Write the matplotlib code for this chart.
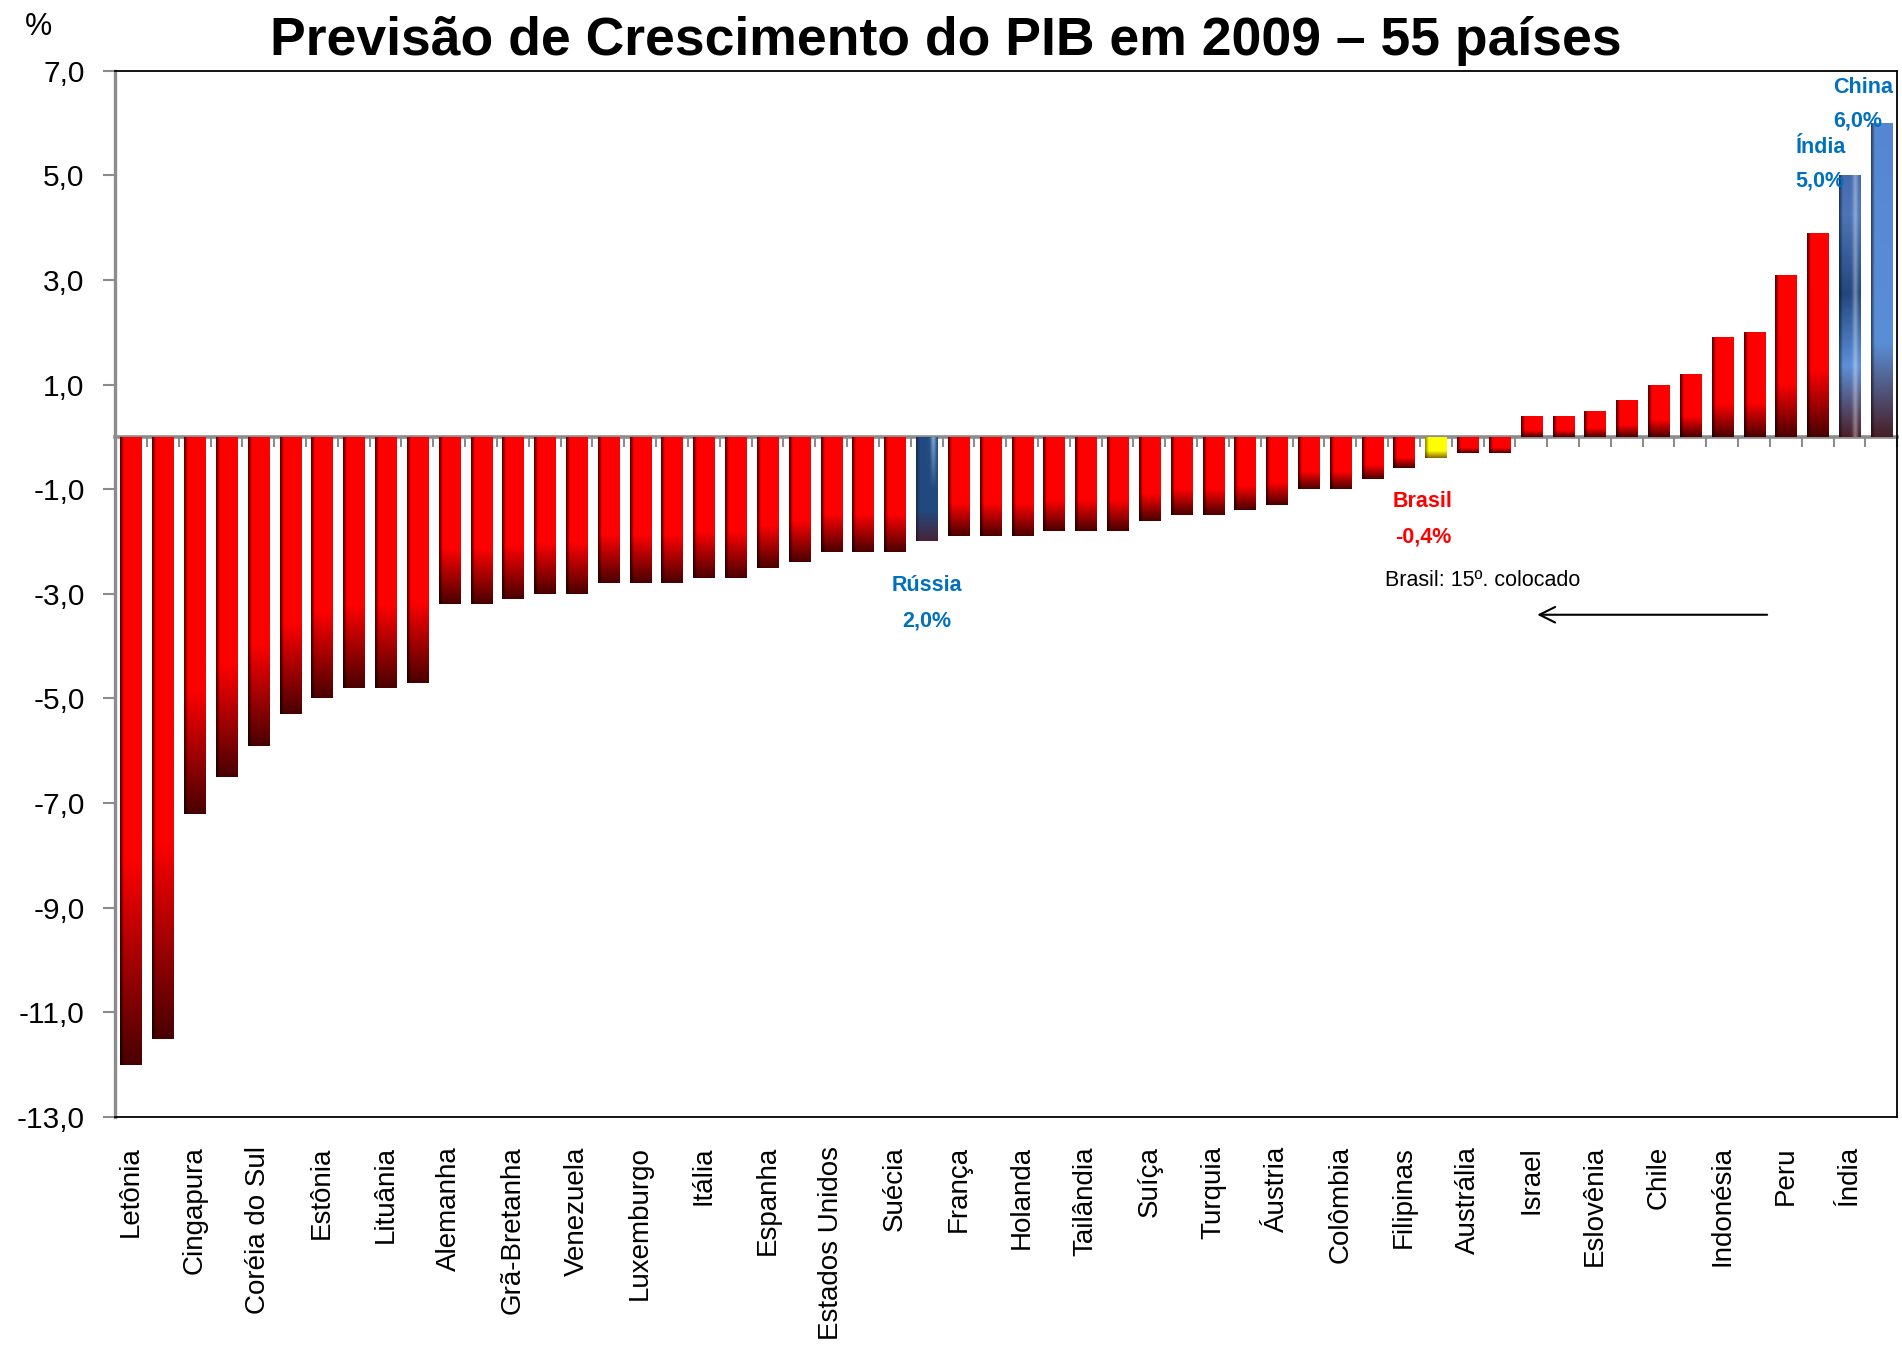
import numpy as np
import matplotlib
matplotlib.use("Agg")
import matplotlib.pyplot as plt
from matplotlib.ticker import FuncFormatter

# dados: previsao de crescimento do PIB 2009 (%), ordem do grafico
rotulos = ['Letônia', '', 'Cingapura', '', 'Coréia do Sul', '', 'Estônia', '',
           'Lituânia', '', 'Alemanha', '', 'Grã-Bretanha', '', 'Venezuela', '',
           'Luxemburgo', '', 'Itália', '', 'Espanha', '', 'Estados Unidos', '',
           'Suécia', '', 'França', '', 'Holanda', '', 'Tailândia', '', 'Suíça', '',
           'Turquia', '', 'Áustria', '', 'Colômbia', '', 'Filipinas', '',
           'Austrália', '', 'Israel', '', 'Eslovênia', '', 'Chile', '',
           'Indonésia', '', 'Peru', '', 'Índia', '']
crescimento = [-12.0, -11.5, -7.2, -6.5, -5.9, -5.3, -5.0, -4.8, -4.8, -4.7,
               -3.2, -3.2, -3.1, -3.0, -3.0, -2.8, -2.8, -2.8, -2.7, -2.7,
               -2.5, -2.4, -2.2, -2.2, -2.2, -2.0, -1.9, -1.9, -1.9, -1.8,
               -1.8, -1.8, -1.6, -1.5, -1.5, -1.4, -1.3, -1.0, -1.0, -0.8,
               -0.6, -0.4, -0.3, -0.3, 0.4, 0.4, 0.5, 0.7, 1.0, 1.2,
               1.9, 2.0, 3.1, 3.9, 5.0, 6.0]
# barras destacadas
idx_russia, idx_brasil, idx_india, idx_china = 25, 41, 54, 55
yticks = [7, 5, 3, 1, -1, -3, -5, -7, -9, -11, -13]

AZUL = '#0070C0'
CINZA = '#8c8c8c'
plt.rcParams['font.family'] = ['Liberation Sans', 'DejaVu Sans']


def stops(v, pts):
    pos = [p[0] for p in pts]
    cols = np.array([p[1] for p in pts])
    return np.stack([np.interp(v, pos, cols[:, c]) for c in range(3)], axis=-1)


def gradiente(tipo, ny=200, nx=40):
    v = np.linspace(0, 1, ny)          # 0 = parte de baixo da barra
    h = np.linspace(0, 1, nx)
    borda = np.clip((0.17 - h) / 0.17, 0, 1)[None, :, None]
    if tipo == 'vermelho':
        col = stops(v, [(0, (0.29, 0, 0)), (0.33, (1, 0, 0)), (1, (1, 0, 0))])
        col = np.repeat(col[:, None, :], nx, axis=1)
        col = col * (1 - 0.7 * borda)
    elif tipo == 'amarelo':
        col = stops(v, [(0, (0.55, 0.4, 0)), (0.35, (1, 1, 0)), (1, (1, 1, 0))])
        col = np.repeat(col[:, None, :], nx, axis=1)
        col = col * (1 - 0.45 * borda)
    elif tipo == 'china':
        col = stops(v, [(0, (0.28, 0.12, 0.15)), (0.3, (0.35, 0.56, 0.84)),
                        (1, (0.33, 0.53, 0.82))])
        col = np.repeat(col[:, None, :], nx, axis=1)
        col = col * (1 - 0.55 * borda)
    elif tipo == 'india':
        col = stops(v, [(0, (0.30, 0.12, 0.15)), (0.27, (0.36, 0.56, 0.85)),
                        (0.55, (0.13, 0.28, 0.5)), (0.85, (0.3, 0.46, 0.72)),
                        (1, (0.27, 0.42, 0.68))])
        col = np.repeat(col[:, None, :], nx, axis=1)
        brilho = np.exp(-((h - 0.75) / 0.12) ** 2)[None, :, None]
        col = col + (1 - col) * 0.35 * brilho
        col = col * (1 - 0.55 * borda)
    else:  # russia
        col = stops(v, [(0, (0.28, 0.14, 0.22)), (0.3, (0.13, 0.29, 0.5)),
                        (1, (0.13, 0.29, 0.5))])
        col = np.repeat(col[:, None, :], nx, axis=1)
        brilho = (np.exp(-((h - 0.8) / 0.12) ** 2)[None, :]
                  * np.clip((v - 0.5) / 0.5, 0, 1)[:, None])[..., None]
        col = col + (np.array([0.6, 0.75, 0.92]) - col) * 0.8 * brilho
        col = col * (1 - 0.4 * borda)
    return np.clip(col, 0, 1)


fig = plt.figure(figsize=(19.02, 13.45), dpi=100)
ax = fig.add_axes([0.0605, 0.1695, 0.937, 0.778])

x = np.arange(len(crescimento))
barras = ax.bar(x, crescimento, width=0.66, color='red', zorder=2)

tipos = {idx_russia: 'russia', idx_brasil: 'amarelo',
         idx_india: 'india', idx_china: 'china'}
for i, b in enumerate(barras):
    y0, y1 = sorted([b.get_y(), b.get_y() + b.get_height()])
    img = ax.imshow(gradiente(tipos.get(i, 'vermelho')), origin='lower',
                    extent=(b.get_x(), b.get_x() + b.get_width(), y0, y1),
                    aspect='auto', interpolation='bilinear', zorder=3)
    img.set_clip_path(b)

ax.set_xlim(-0.5, len(crescimento) - 0.5)
ax.set_ylim(-13, 7)

# eixo y
ax.set_yticks(yticks)
ax.yaxis.set_major_formatter(FuncFormatter(lambda v, p: f"{v:.1f}".replace('.', ',')))
ax.tick_params(axis='y', direction='out', length=9, width=1.5, color=CINZA,
               pad=13, labelsize=21.5)

# eixo x: nomes embaixo
ax.set_xticks(x)
ax.set_xticklabels(rotulos, rotation=90, fontsize=20, va='top', ha='center')
ax.tick_params(axis='x', length=0, pad=21)

for s in ['top', 'right', 'bottom']:
    ax.spines[s].set_color('black')
    ax.spines[s].set_linewidth(1.3)
ax.spines['left'].set_color(CINZA)
ax.spines['left'].set_linewidth(2.4)

# linha do zero com marcas entre as categorias
y_zero = (0 - ax.get_ylim()[0]) / (ax.get_ylim()[1] - ax.get_ylim()[0])
sec = ax.secondary_xaxis(y_zero)
sec.set_alignment('bottom')
sec.set_xticks(np.arange(len(crescimento)) + 0.5)
sec.set_xticklabels([])
sec.tick_params(direction='out', length=7, width=1.5, color=CINZA)
sec.spines['bottom'].set_color(CINZA)
sec.spines['bottom'].set_linewidth(2.6)

# destaques
fs = 15.5
estilo = dict(fontsize=fs, fontweight='bold', va='center', zorder=5)
ax.text(idx_russia, -2.85, 'Rússia', color=AZUL, ha='center', **estilo)
ax.text(idx_russia, -3.52, '2,0%', color=AZUL, ha='center', **estilo)
ax.text(40.6, -1.23, 'Brasil', color='red', ha='center', **estilo)
ax.text(40.6, -1.92, '-0,4%', color='red', ha='center', **estilo)
ax.text(52.3, 5.54, 'Índia', color=AZUL, ha='left', **estilo)
ax.text(52.3, 4.89, '5,0%', color=AZUL, ha='left', **estilo)
ax.text(53.5, 6.67, 'China', color=AZUL, ha='left', **estilo)
ax.text(53.5, 6.03, '6,0%', color=AZUL, ha='left', **estilo)

ax.text(39.4, -2.74, 'Brasil: 15º. colocado', fontsize=15.5, ha='left', va='center')
ax.annotate('', xy=(44.1, -3.4), xytext=(51.5, -3.4),
            arrowprops=dict(arrowstyle='->', color='black', lw=1.5,
                            mutation_scale=28))

fig.text(0.4975, 0.9594, 'Previsão de Crescimento do PIB em 2009 – 55 países',
         fontsize=38.5, fontweight='bold', ha='center', va='baseline')
fig.text(0.02, 0.98, '%', fontsize=22, ha='center', va='center')

fig.savefig('out.png', dpi=100)
